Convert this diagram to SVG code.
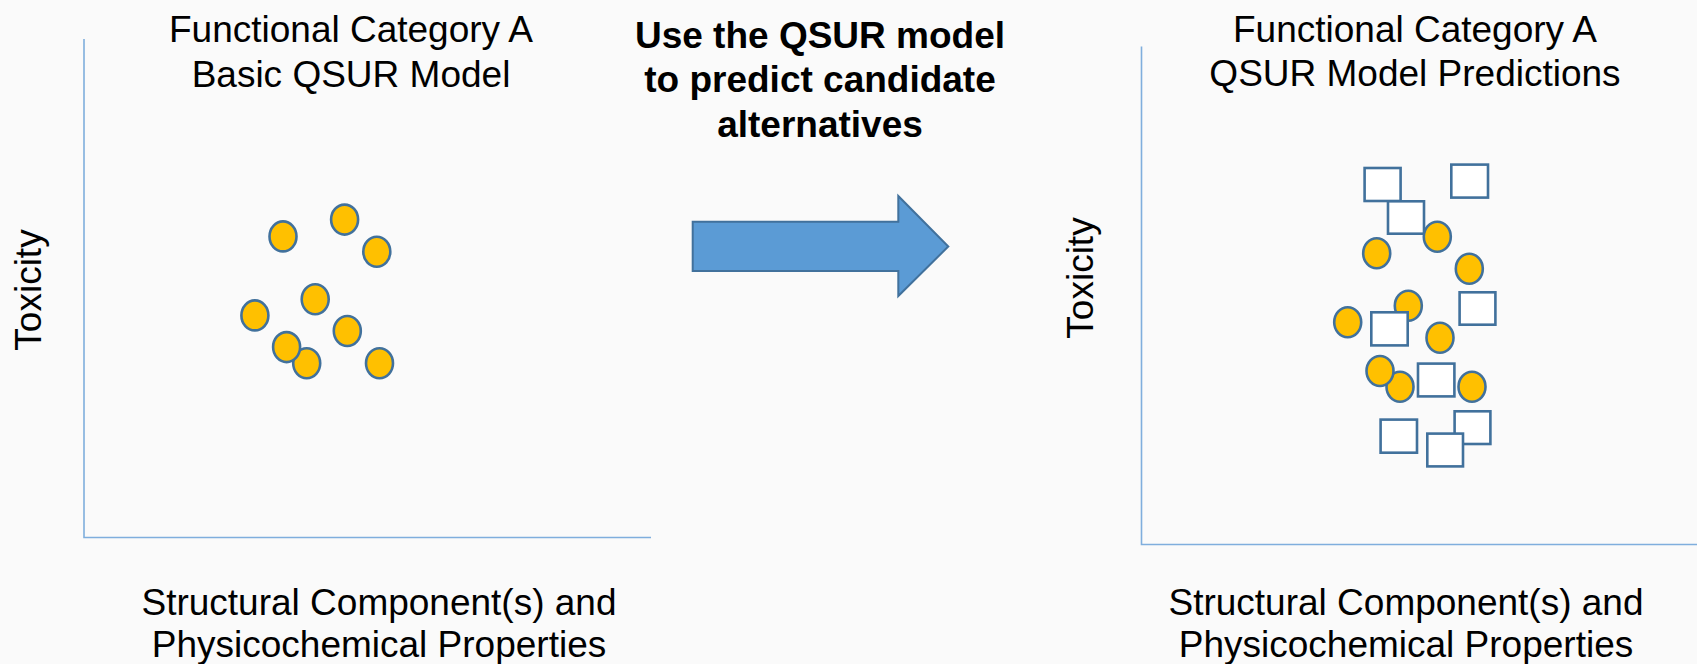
<svg xmlns="http://www.w3.org/2000/svg" width="1697" height="664" viewBox="0 0 1697 664">
<defs>
<style>
.t{font-family:"Liberation Sans",Arial,sans-serif;font-size:37px;fill:#000;text-anchor:middle}
.b{font-family:"Liberation Sans",Arial,sans-serif;font-size:37px;font-weight:bold;fill:#000;text-anchor:middle}
.ax{stroke:#7FAEDD;stroke-width:1.6;fill:none}
.c{fill:#FFC000;stroke:#41719C;stroke-width:2.6}
.s{fill:#FFFFFF;stroke:#41719C;stroke-width:2.6}
</style>
</defs>
<rect width="1697" height="664" fill="#FAFAFA"/>

<g id="left-plot">
<path class="ax" d="M84,39 V537.5 H651"/>
<text class="t" x="351" y="42">Functional Category A</text>
<text class="t" x="351" y="87">Basic QSUR Model</text>
<text class="t" transform="translate(41,290) rotate(-90)">Toxicity</text>
<text class="t" x="379" y="615">Structural Component(s) and</text>
<text class="t" x="379" y="657">Physicochemical Properties</text>
<g id="left-points">
<ellipse class="c" cx="283" cy="236.4" rx="13.5" ry="15"/>
<ellipse class="c" cx="344.6" cy="219.6" rx="13.5" ry="15"/>
<ellipse class="c" cx="376.8" cy="251.8" rx="13.5" ry="15"/>
<ellipse class="c" cx="315.2" cy="299.3" rx="13.5" ry="15"/>
<ellipse class="c" cx="254.9" cy="315.4" rx="13.5" ry="15"/>
<ellipse class="c" cx="347.3" cy="331" rx="13.5" ry="15"/>
<ellipse class="c" cx="306.7" cy="363.2" rx="13.5" ry="15"/>
<ellipse class="c" cx="286.6" cy="347.1" rx="13.5" ry="15"/>
<ellipse class="c" cx="379.5" cy="363.2" rx="13.5" ry="15"/>
</g>
</g>

<g id="middle-label">
<text class="b" x="820" y="48">Use the QSUR model</text>
<text class="b" x="820" y="92">to predict candidate</text>
<text class="b" x="820" y="137">alternatives</text>
</g>

<g id="connectors">
<path d="M692.7,221.7 H898.3 V196 L948.3,246.5 L898.3,296 V271 H692.7 Z" fill="#5B9BD5" stroke="#41719C" stroke-width="2"/>
</g>

<g id="right-plot">
<path class="ax" d="M1141.5,46.5 V544.5 H1697"/>
<text class="t" x="1415" y="42">Functional Category A</text>
<text class="t" x="1415" y="86">QSUR Model Predictions</text>
<text class="t" transform="translate(1093,278) rotate(-90)">Toxicity</text>
<text class="t" x="1406" y="615">Structural Component(s) and</text>
<text class="t" x="1406" y="657">Physicochemical Properties</text>
<g id="right-points">
<rect class="s" x="1364.6" y="168" width="36" height="33"/>
<rect class="s" x="1451.3" y="164.6" width="36.7" height="33"/>
<rect class="s" x="1388" y="201.3" width="36" height="32.4"/>
<ellipse class="c" cx="1376.7" cy="253.3" rx="13.5" ry="15"/>
<ellipse class="c" cx="1437.3" cy="236.7" rx="13.5" ry="15"/>
<ellipse class="c" cx="1469.3" cy="268.7" rx="13.5" ry="15"/>
<ellipse class="c" cx="1408.3" cy="305.7" rx="13.5" ry="15"/>
<rect class="s" x="1459.6" y="292.3" width="35.8" height="32.4"/>
<rect class="s" x="1371.3" y="312.3" width="36.4" height="33.1"/>
<ellipse class="c" cx="1347.7" cy="322.3" rx="13.5" ry="15"/>
<ellipse class="c" cx="1440" cy="337.7" rx="13.5" ry="15"/>
<ellipse class="c" cx="1400" cy="386.7" rx="13.5" ry="15"/>
<ellipse class="c" cx="1380" cy="371" rx="13.5" ry="15"/>
<rect class="s" x="1418" y="363.6" width="36.4" height="32.8"/>
<ellipse class="c" cx="1472" cy="386.7" rx="13.5" ry="15"/>
<rect class="s" x="1454.6" y="411.3" width="35.8" height="32.7"/>
<rect class="s" x="1380.6" y="419.6" width="36.4" height="33.1"/>
<rect class="s" x="1427.3" y="433.6" width="35.7" height="32.8"/>
</g>
</g>
</svg>
